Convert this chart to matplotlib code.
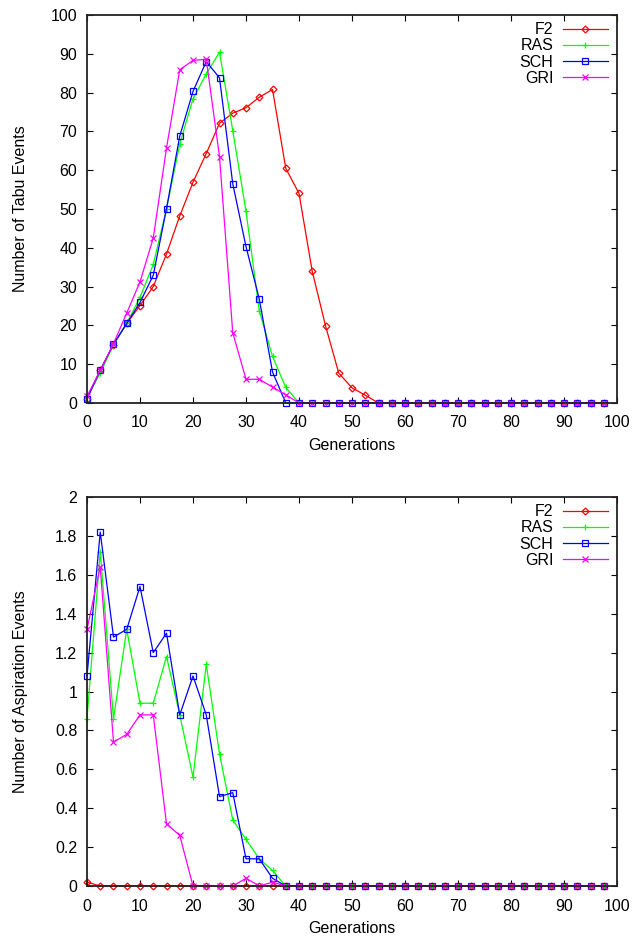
import matplotlib
matplotlib.use("Agg")
import matplotlib.pyplot as plt
from matplotlib.ticker import FuncFormatter

plt.rcParams['font.family'] = ['Liberation Sans', 'DejaVu Sans']
plt.rcParams['font.size'] = 11.5

# x positions (generations)
gens = [0, 2.5, 5, 7.5, 10, 12.5, 15, 17.5, 20, 22.5,
        25, 27.5, 30, 32.5, 35, 37.5, 40, 42.5, 45, 47.5,
        50, 52.5, 55, 57.5, 60, 62.5, 65, 67.5, 70, 72.5,
        75, 77.5, 80, 82.5, 85, 87.5, 90, 92.5, 95, 97.5]

# top panel: tabu events
tabu_f2 = [1.1, 8.5, 15, 20.5, 25.1, 30, 38.4, 48.2, 56.9, 64.3,
           72.1, 74.7, 76.1, 78.8, 80.8, 60.5, 54, 33.9, 19.9, 7.7,
           3.9, 2.0, 0, 0, 0, 0, 0, 0, 0, 0,
           0, 0, 0, 0, 0, 0, 0, 0, 0, 0]
tabu_ras = [1.5, 7.7, 15, 20.5, 27.2, 35.7, 50, 66.8, 78.4, 84.8,
            90.4, 70.2, 49.4, 23.8, 12, 4, 0, 0, 0, 0,
            0, 0, 0, 0, 0, 0, 0, 0, 0, 0,
            0, 0, 0, 0, 0, 0, 0, 0, 0, 0]
tabu_sch = [1.1, 8.4, 15.2, 20.5, 25.9, 32.9, 50.1, 68.8, 80.3, 88,
            83.8, 56.5, 40.3, 26.8, 8, 0, 0, 0, 0, 0,
            0, 0, 0, 0, 0, 0, 0, 0, 0, 0,
            0, 0, 0, 0, 0, 0, 0, 0, 0, 0]
tabu_gri = [1.7, 8.4, 15.3, 23.2, 31.2, 42.5, 65.7, 85.9, 88.3, 88.6,
            63.5, 18.1, 6.1, 6.1, 4.1, 2.1, 0, 0, 0, 0,
            0, 0, 0, 0, 0, 0, 0, 0, 0, 0,
            0, 0, 0, 0, 0, 0, 0, 0, 0, 0]

# bottom panel: aspiration events
asp_f2 = [0.02, 0, 0, 0, 0, 0, 0, 0, 0, 0,
          0, 0, 0, 0, 0, 0, 0, 0, 0, 0,
          0, 0, 0, 0, 0, 0, 0, 0, 0, 0,
          0, 0, 0, 0, 0, 0, 0, 0, 0, 0]
asp_ras = [0.86, 1.72, 0.86, 1.32, 0.94, 0.94, 1.18, 0.88, 0.56, 1.14,
           0.68, 0.34, 0.24, 0.14, 0.08, 0, 0, 0, 0, 0,
           0, 0, 0, 0, 0, 0, 0, 0, 0, 0,
           0, 0, 0, 0, 0, 0, 0, 0, 0, 0]
asp_sch = [1.08, 1.82, 1.28, 1.32, 1.54, 1.2, 1.3, 0.88, 1.08, 0.88,
           0.46, 0.48, 0.14, 0.14, 0.04, 0, 0, 0, 0, 0,
           0, 0, 0, 0, 0, 0, 0, 0, 0, 0,
           0, 0, 0, 0, 0, 0, 0, 0, 0, 0]
asp_gri = [1.32, 1.64, 0.74, 0.78, 0.88, 0.88, 0.32, 0.26, 0, 0,
           0, 0, 0.04, 0, 0.02, 0, 0, 0, 0, 0,
           0, 0, 0, 0, 0, 0, 0, 0, 0, 0,
           0, 0, 0, 0, 0, 0, 0, 0, 0, 0]

names = ['F2', 'RAS', 'SCH', 'GRI']
colors = ['#ff0000', '#00ff00', '#0000ff', '#ff00ff']
markers = ['D', '+', 's', 'x']
msizes = [3.5, 5, 5, 5]


def panel(ax, series, ylim, yticks, ylabel):
    for s, name, c, m, ms in zip(series, names, colors, markers, msizes):
        ax.plot(gens, s, color=c, marker=m, markersize=ms, markerfacecolor='none',
                markeredgewidth=0.9, linewidth=0.9, label=name, clip_on=False)
    ax.set_xlim(0, 100)
    ax.set_ylim(*ylim)
    ax.set_xticks(range(0, 101, 10))
    ax.set_yticks(yticks)
    ax.yaxis.set_major_formatter(FuncFormatter(lambda v, p: '%g' % round(v, 2)))
    ax.tick_params(direction='in', top=True, right=True, length=4, width=0.8)
    ax.tick_params(axis='x', pad=9)
    ax.tick_params(axis='y', pad=7)
    for sp in ax.spines.values():
        sp.set_linewidth(1.3)
        sp.set_color('#222222')
    ax.set_xlabel('Generations')
    ax.xaxis.set_label_coords(0.5, -0.09)
    ax.set_ylabel(ylabel)
    ax.yaxis.set_label_coords(-0.112, 0.5)
    ax.legend(loc='upper right', bbox_to_anchor=(1.002, 1.008), frameon=False,
              markerfirst=False, handlelength=2.8, labelspacing=0.07, borderpad=0.1,
              borderaxespad=0.55, handletextpad=0.6)


fig = plt.figure(figsize=(6.43, 9.38), dpi=100)
ax1 = fig.add_axes([0.1353, 0.5704, 0.8243, 0.4136])
ax2 = fig.add_axes([0.1353, 0.0554, 0.8243, 0.4147])

panel(ax1, [tabu_f2, tabu_ras, tabu_sch, tabu_gri], (0, 100), range(0, 101, 10),
      'Number of Tabu Events')
panel(ax2, [asp_f2, asp_ras, asp_sch, asp_gri], (0, 2),
      [0, 0.2, 0.4, 0.6, 0.8, 1.0, 1.2, 1.4, 1.6, 1.8, 2.0],
      'Number of Aspiration Events')

fig.savefig('out.png', dpi=100)
